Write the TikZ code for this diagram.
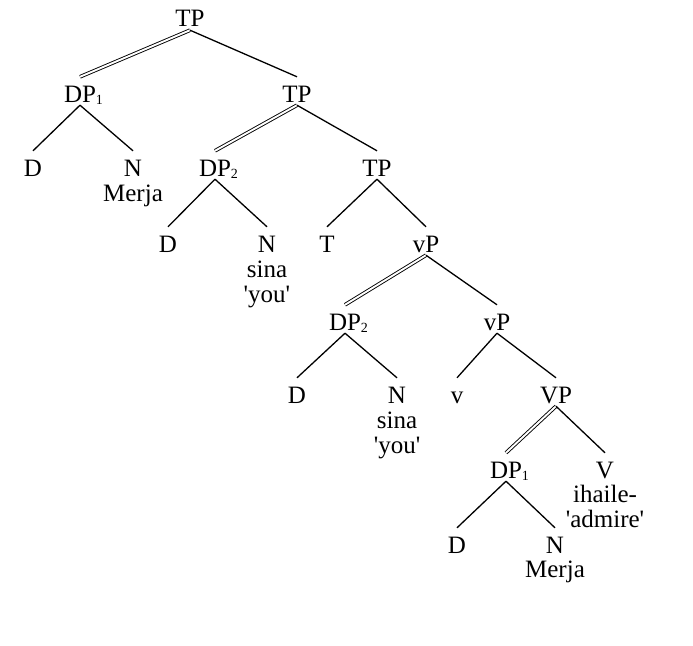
\documentclass[tikz,border=0pt]{standalone}
\usepackage{fontspec}
\setmainfont{Liberation Serif}
\newcommand{\sbx}[1]{\rlap{\raisebox{-2pt}{\fontsize{14}{14}\selectfont #1}}}
\newcommand{\q}{\textquotesingle}
\begin{document}
\begin{tikzpicture}[x=1pt,y=-1pt,
  cat/.style={anchor=base,inner sep=0pt,text height=25pt,text depth=3pt,font=\fontsize{25}{25}\selectfont},
  word/.style={anchor=base,inner sep=0pt,font=\fontsize{25}{25}\selectfont},
  br/.style={line width=1.3pt},
  dbl/.style={draw=black,line width=0.9pt,double=white,double distance=1.9pt}]
\useasboundingbox (0,0) rectangle (693,645);
\fill[white] (0,0) rectangle (693,645);
% level 0
\node[cat] (tp0) at (190,27) {TP};
% level 1
\node[cat] (dp1) at (80,102) {DP\sbx{1}};
\node[cat] (tp1) at (297,102) {TP};
% level 2
\node[cat] (d1) at (33,176) {D};
\node[cat] (n1) at (133,176) {N};
\node[word] (w1) at (133,201) {Merja};
\node[cat] (dp2) at (215,176) {DP\sbx{2}};
\node[cat] (tp2) at (377,176) {TP};
% level 3
\node[cat] (d2) at (168,252) {D};
\node[cat] (n2) at (267,252) {N};
\node[word] (w2) at (267,277) {sina};
\node[word] (g2) at (267,302) {\q you\q};
\node[cat] (t3) at (327,252) {T};
\node[cat] (vp3) at (426,252) {vP};
% level 4
\node[cat] (dp4) at (345,330) {DP\sbx{2}};
\node[cat] (vp4) at (497,330) {vP};
% level 5
\node[cat] (d5) at (297,403) {D};
\node[cat] (n5) at (397,403) {N};
\node[word] (w5) at (397,428) {sina};
\node[word] (g5) at (397,453) {\q you\q};
\node[cat] (v5) at (457,403) {v};
\node[cat] (vpb5) at (556,403) {VP};
% level 6
\node[cat] (dp6) at (506,478) {DP\sbx{1}};
\node[cat] (vv6) at (605,478) {V};
\node[word] (w6) at (605,502) {ihaile-};
\node[word] (g6) at (605,527) {\q admire\q};
% level 7
\node[cat] (d7) at (457,553) {D};
\node[cat] (n7) at (555,553) {N};
\node[word] (w7) at (555,577) {Merja};
% branches
\draw[dbl] (tp0.south) -- (dp1.north);
\draw[br] (tp0.south) -- (tp1.north);
\draw[br] (dp1.south) -- (d1.north);
\draw[br] (dp1.south) -- (n1.north);
\draw[dbl] (tp1.south) -- (dp2.north);
\draw[br] (tp1.south) -- (tp2.north);
\draw[br] (dp2.south) -- (d2.north);
\draw[br] (dp2.south) -- (n2.north);
\draw[br] (tp2.south) -- (t3.north);
\draw[br] (tp2.south) -- (vp3.north);
\draw[dbl] (vp3.south) -- (dp4.north);
\draw[br] (vp3.south) -- (vp4.north);
\draw[br] (dp4.south) -- (d5.north);
\draw[br] (dp4.south) -- (n5.north);
\draw[br] (vp4.south) -- (v5.north);
\draw[br] (vp4.south) -- (vpb5.north);
\draw[dbl] (vpb5.south) -- (dp6.north);
\draw[br] (vpb5.south) -- (vv6.north);
\draw[br] (dp6.south) -- (d7.north);
\draw[br] (dp6.south) -- (n7.north);
\end{tikzpicture}
\end{document}
